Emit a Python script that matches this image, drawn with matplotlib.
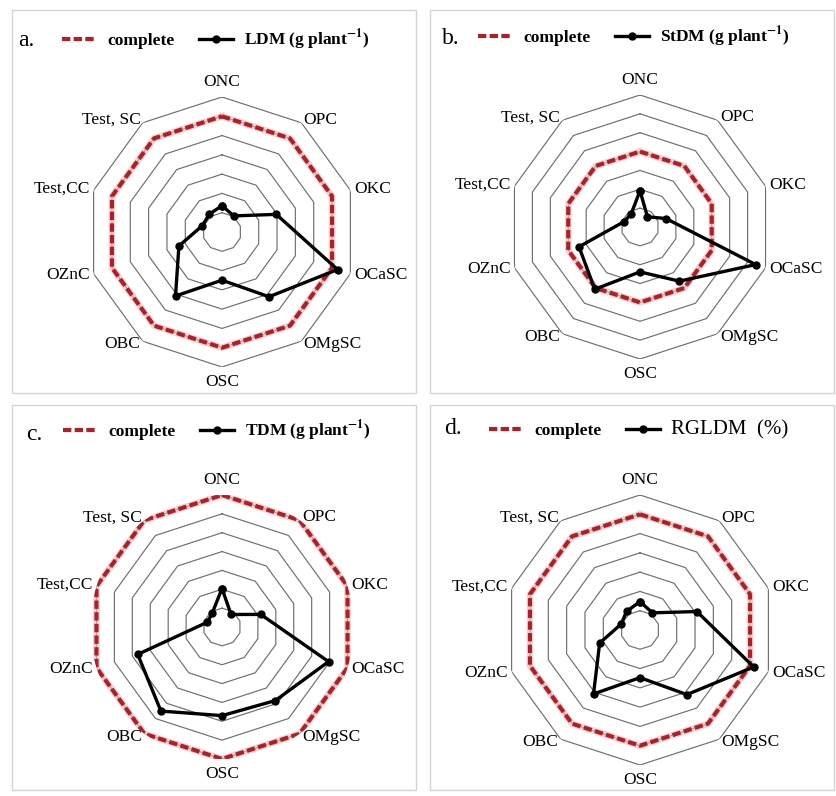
import numpy as np
import matplotlib
matplotlib.use('Agg')
import matplotlib.pyplot as plt
from matplotlib.patches import Rectangle

plt.rcParams['font.family'] = ['Liberation Serif', 'DejaVu Serif']
plt.rcParams['mathtext.fontset'] = 'stix'

# categories (clockwise from top)
categories = ['ONC', 'OPC', 'OKC', 'OCaSC', 'OMgSC', 'OSC', 'OBC', 'OZnC', 'Test,CC', 'Test, SC']

# values, in grid-ring units
ldm = [1.37, 1.03, 2.96, 6.3, 4.15, 2.5, 4.1, 2.35, 1.07, 1.13]
stdm = [1.92, 0.67, 1.45, 6.45, 3.55, 2.38, 4.08, 3.4, 0.9, 0.82]
tdm = [2.04, 0.82, 2.16, 5.94, 4.82, 4.7, 5.51, 4.7, 0.82, 0.89]
rgldm = [1.47, 1.1, 3.1, 6.2, 4.14, 2.47, 4.1, 2.2, 1.02, 1.19]

complete_a = [6] * 10
complete_b = [4] * 10
complete_c = [7] * 10
complete_d = [6] * 10

rings = [1, 2, 3, 4, 5, 6, 7]

W, H = 836, 796
fig = plt.figure(figsize=(W / 100, H / 100), dpi=100)

# panel frames
for (x0, y0, x1, y1) in [(12, 10, 416, 393), (430, 10, 834, 393),
                         (12, 405, 416, 790), (430, 405, 834, 790)]:
    fig.add_artist(Rectangle((x0 / W, 1 - y1 / H), (x1 - x0) / W, (y1 - y0) / H,
                             transform=fig.transFigure, fill=False,
                             edgecolor='#d4d4d4', lw=1))

panels = [
    # letter, series label, values, complete, center px, radius px, letter pos, legend pos
    ('a.', r'LDM (g plant$^{\mathbf{-1}}$)', ldm, complete_a, (222, 232), 135, (18, 41), (62, 40)),
    ('b.', r'StDM (g plant$^{\mathbf{-1}}$)', stdm, complete_b, (640, 227), 132, (442, 38), (478, 37)),
    ('c.', r'TDM (g plant$^{\mathbf{-1}}$)', tdm, complete_c, (222, 627), 132, (26, 434), (63, 431)),
    ('d.', 'RGLDM  (%)', rgldm, complete_d, (640, 630), 135, (444, 428), (489, 430)),
]

n = len(categories)
theta = np.linspace(0, 2 * np.pi, n, endpoint=False)
theta_c = np.append(theta, theta[0])

for letter, label, vals, comp, (cx, cy), R, (lx, ly), (gx, gy) in panels:
    ax = fig.add_axes([(cx - R) / W, 1 - (cy + R) / H, 2 * R / W, 2 * R / H],
                      projection='polar')
    ax.set_theta_zero_location('N')
    ax.set_theta_direction(-1)
    ax.set_ylim(0, 7)
    ax.grid(False)
    ax.set_xticks([])
    ax.set_yticks([])
    ax.spines['polar'].set_visible(False)
    ax.patch.set_alpha(0)

    # decagon grid
    for r in rings:
        ax.plot(theta_c, [r] * (n + 1), color='#6f6f6f', lw=0.85, zorder=1)

    comp_c = comp + comp[:1]
    ax.plot(theta_c, comp_c, color='#f2b8b8', lw=4.8, alpha=0.6, zorder=2,
            solid_joinstyle='miter')
    l1, = ax.plot(theta_c, comp_c, color='#b01f26', lw=3.0, ls=(0, (2.0, 0.8)),
                  zorder=3, label='complete')
    vals_c = vals + vals[:1]
    l2, = ax.plot(theta_c, vals_c, color='black', lw=2.4, marker='o', ms=5,
                  zorder=4, label=label)

    # category labels
    for t, name in zip(theta, categories):
        s = np.sin(t)
        c = np.cos(t)
        if abs(s) < 1e-6:
            ha = 'center'
            va = 'bottom' if c > 0 else 'top'
            rr = 7.35
        else:
            ha = 'left' if s > 0 else 'right'
            va = 'center'
            rr = 7.2
        ax.text(t, rr, name, ha=ha, va=va, fontsize=12.5, clip_on=False)

    # panel letter and legend
    fig.text(lx / W, 1 - ly / H, letter, fontsize=17, ha='left', va='center')
    leg = ax.legend(handles=[l1, l2], loc='center left',
                    bbox_to_anchor=(gx / W, 1 - gy / H), bbox_transform=fig.transFigure,
                    ncol=2, frameon=False, borderpad=0, borderaxespad=0,
                    handlelength=2.0, handletextpad=0.6, columnspacing=1.4,
                    prop={'weight': 'bold', 'size': 12.5})
    if letter == 'd.':
        leg.get_texts()[1].set_fontweight('normal')
        leg.get_texts()[1].set_fontsize(15)

fig.savefig('out.png', dpi=100, facecolor='white')
